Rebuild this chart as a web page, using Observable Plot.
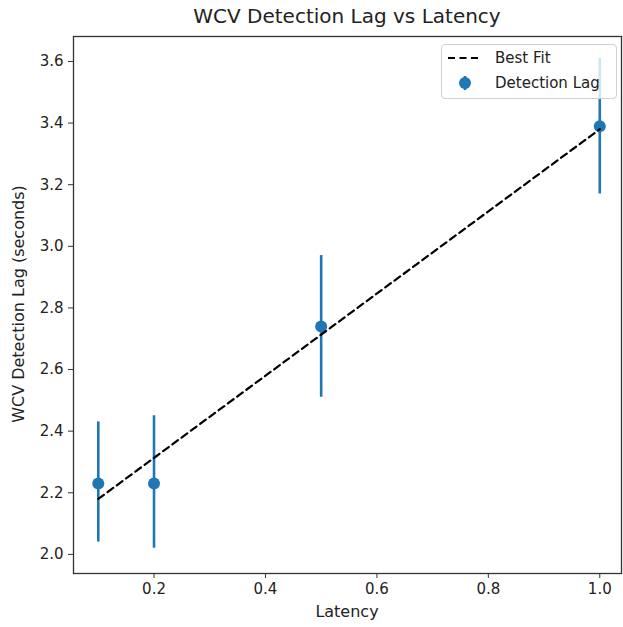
<!DOCTYPE html>
<html><head><meta charset="utf-8">
<script src="https://cdn.jsdelivr.net/npm/d3@7"></script>
<script src="https://cdn.jsdelivr.net/npm/@observablehq/plot@0.6"></script>
<style>
body{margin:0;background:#fff;font-family:"DejaVu Sans",sans-serif;}
#wrap{position:relative;width:623px;height:627px;overflow:hidden;background:#fff;}
.t{position:absolute;color:#222;white-space:nowrap;font-family:"DejaVu Sans",sans-serif;}
</style></head><body><div id="wrap"></div>
<script>
// Data
const latency = [0.1, 0.2, 0.5, 1.0];
const lag = [2.23, 2.23, 2.74, 3.39];
const lagLow = [2.04, 2.02, 2.51, 3.17];
const lagHigh = [2.43, 2.45, 2.97, 3.61];
const fitX = [0.1, 1.0];
const fitY = [2.18, 3.38];
const xTicks = [0.2, 0.4, 0.6, 0.8, 1.0];
const yTicks = [2.0, 2.2, 2.4, 2.6, 2.8, 3.0, 3.2, 3.4, 3.6];
const titleText = "WCV Detection Lag vs Latency";
const xLabel = "Latency";
const yLabel = "WCV Detection Lag (seconds)";
const legendLabels = ["Best Fit", "Detection Lag"];

const C0 = "#1f77b4";
const pts = latency.map((x, i) => ({x, y: lag[i], lo: lagLow[i], hi: lagHigh[i]}));
const fit = fitX.map((x, i) => ({x, y: fitY[i]}));
const fmt = d3.format(".1f");

const chart = Plot.plot({
  width: 623, height: 627,
  marginLeft: 73, marginRight: 2, marginTop: 36, marginBottom: 54,
  style: {fontFamily: "DejaVu Sans", fontSize: "15px", color: "#222", background: "white", overflow: "hidden"},
  x: {domain: [0.0555, 1.039]},
  y: {domain: [1.938, 3.681]},
  marks: [
    Plot.ruleX(pts, {x: "x", y1: "lo", y2: "hi", stroke: C0, strokeWidth: 2.6}),
    Plot.dot(pts, {x: "x", y: "y", r: 6, fill: C0, stroke: "none"}),
    Plot.line(fit, {x: "x", y: "y", stroke: "black", strokeWidth: 2.2, strokeDasharray: "7,4.5"}),
    Plot.frame({stroke: "#333", strokeWidth: 1.3}),
    Plot.axisX({ticks: xTicks, tickFormat: fmt, tickSize: 5, tickPadding: 5, label: null, stroke: "#333", fill: "#222"}),
    Plot.axisY({ticks: yTicks, tickFormat: fmt, tickSize: 5, tickPadding: 5, label: null, stroke: "#333", fill: "#222"})
  ]
});
const wrap = document.getElementById("wrap");
wrap.appendChild(chart);

function addText(txt, css) {
  const d = document.createElement("div");
  d.className = "t";
  d.textContent = txt;
  Object.assign(d.style, css);
  wrap.appendChild(d);
  return d;
}
addText(titleText, {left: "347px", top: "4px", fontSize: "20px", transform: "translateX(-50%)"});
addText(xLabel, {left: "347px", top: "602px", fontSize: "16px", transform: "translateX(-50%)"});
addText(yLabel, {left: "18px", top: "304px", fontSize: "16px", transform: "translate(-50%,-50%) rotate(-90deg)"});

// Legend (framealpha 0.8 box, upper right)
const lg = document.createElement("div");
Object.assign(lg.style, {position: "absolute", left: "441px", top: "44px", width: "174px", height: "53px",
  border: "1px solid #d0d0d0", borderRadius: "4px", background: "rgba(255,255,255,0.8)"});
lg.innerHTML = `<svg width="174" height="53" style="position:absolute;left:0;top:0;overflow:visible">
  <line x1="6" x2="39" y1="13" y2="13" stroke="black" stroke-width="2.2" stroke-dasharray="7,4.5"/>
  <line x1="23" x2="23" y1="31" y2="45" stroke="${C0}" stroke-width="2.6"/>
  <circle cx="23" cy="38" r="6" fill="${C0}"/>
  <text x="53" y="13" dy="0.35em" font-family="DejaVu Sans" font-size="15" fill="#222">${legendLabels[0]}</text>
  <text x="53" y="38" dy="0.35em" font-family="DejaVu Sans" font-size="15" fill="#222">${legendLabels[1]}</text>
</svg>`;
wrap.appendChild(lg);
</script></body></html>
